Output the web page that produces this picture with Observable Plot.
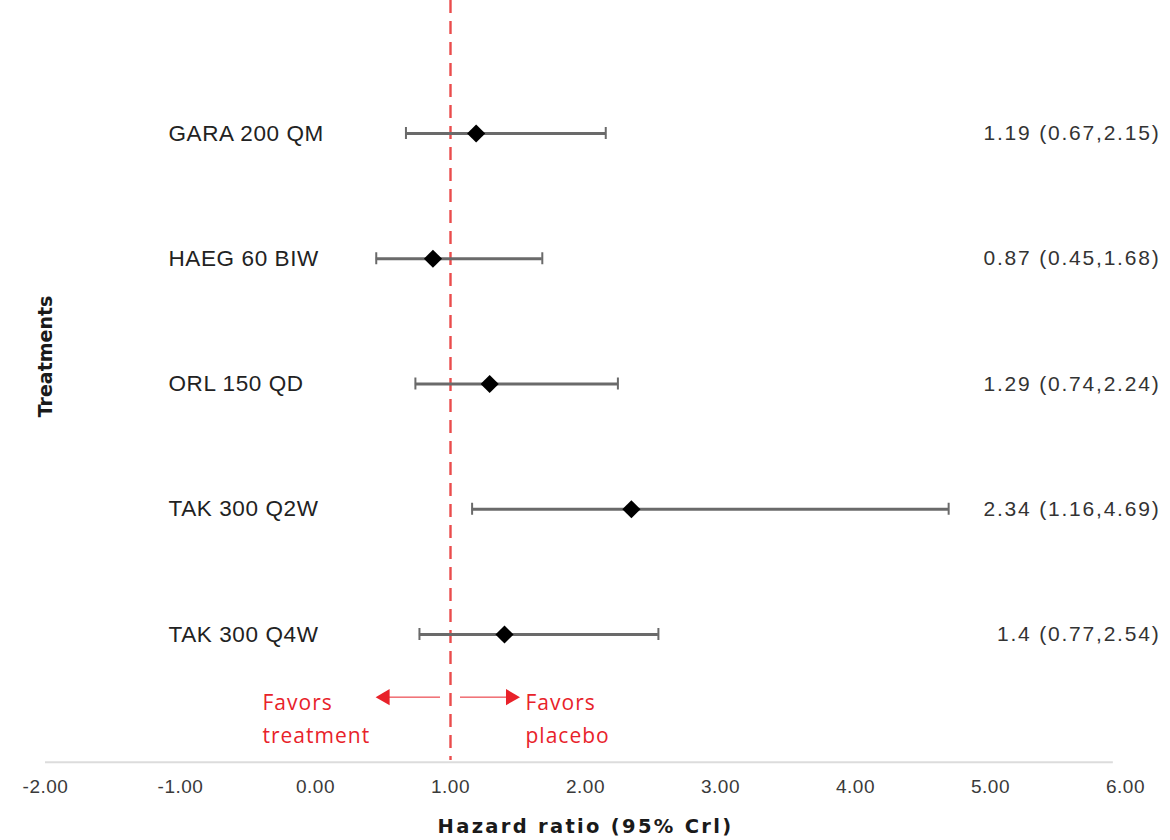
<!DOCTYPE html>
<html>
<head>
<meta charset="utf-8">
<script src="https://cdn.jsdelivr.net/npm/d3@7"></script>
<script src="https://cdn.jsdelivr.net/npm/@observablehq/plot@0.6"></script>
<style>
  html, body { margin: 0; padding: 0; background: #fff; }
  #chart svg { display: block; }
</style>
</head>
<body>
<div id="chart"></div>
<script>
const treatments = ["GARA 200 QM", "HAEG 60 BIW", "ORL 150 QD", "TAK 300 Q2W", "TAK 300 Q4W"];
const hr    = [1.19, 0.87, 1.29, 2.34, 1.4];
const lower = [0.67, 0.45, 0.74, 1.16, 0.77];
const upper = [2.15, 1.68, 2.24, 4.69, 2.54];
const labels = ["1.19 (0.67,2.15)", "0.87 (0.45,1.68)", "1.29 (0.74,2.24)", "2.34 (1.16,4.69)", "1.4 (0.77,2.54)"];
const xTicks = [-2, -1, 0, 1, 2, 3, 4, 5, 6];
const nullValue = 1;
const favorsLeft = "Favors\ntreatment";
const favorsRight = "Favors\nplacebo";
const arrowLeftTip = 0.47;
const arrowRightTip = 1.49;

const rows = treatments.map((t, i) => ({i, name: t, hr: hr[i], lo: lower[i], hi: upper[i], label: labels[i]}));
const annoRow = 4.5;

const font = "Liberation Sans, Arial, sans-serif";
const boldFont = "DejaVu Sans, Liberation Sans, sans-serif";
const redFont = "Open Sans, Lato, sans-serif";
const red = "#e8222a";

const plot = Plot.plot({
  width: 1170,
  height: 840,
  marginLeft: 45,
  marginRight: 45,
  marginTop: 0,
  marginBottom: 80,
  style: {fontFamily: font, background: "#fff"},
  x: {domain: [-2, 6]},
  y: {type: "linear", domain: [0, 4], range: [133, 634], axis: null},
  marks: [
    Plot.ruleY([5.02], {x1: -2, x2: 5.91, stroke: "#dcdcdc", strokeWidth: 2}),
    Plot.ruleX([nullValue], {stroke: "#ea4c4c", strokeWidth: 2.4, strokeDasharray: "13,8"}),
    Plot.axisX({ticks: xTicks, tickFormat: d => d.toFixed(2), tickSize: 0, tickPadding: 19, fontSize: 19, fill: "#3a3a3a", label: null, ariaDescription: "ticks"}),
    Plot.text(["Hazard ratio (95% Crl)"], {frameAnchor: "bottom", dy: 72, fontSize: 19.5, fontWeight: "bold", fill: "#1a1a1a", fontFamily: boldFont, ariaDescription: "xtitle"}),
    Plot.text(["Treatments"], {x: () => -2, y: () => 1.78, rotate: -90, textAnchor: "middle", fontSize: 19, fontWeight: "bold", fill: "#1a1a1a", fontFamily: boldFont}),
    Plot.ruleY(rows, {y: "i", x1: "lo", x2: "hi", stroke: "#6a6a6a", strokeWidth: 2.8}),
    Plot.ruleX(rows, {x: "lo", y1: "i", y2: "i", stroke: "#6a6a6a", strokeWidth: 2, insetTop: -6, insetBottom: -6}),
    Plot.ruleX(rows, {x: "hi", y1: "i", y2: "i", stroke: "#6a6a6a", strokeWidth: 2, insetTop: -6, insetBottom: -6}),
    Plot.dot(rows, {x: "hr", y: "i", symbol: "diamond2", r: 8.2, fill: "#000", stroke: "none"}),
    Plot.text(rows, {y: "i", text: "name", frameAnchor: "left", dx: 123, textAnchor: "start", fontSize: 22.5, fill: "#222", ariaDescription: "names"}),
    Plot.text(rows, {y: "i", text: "label", frameAnchor: "right", dx: 35, textAnchor: "end", fontSize: 21, fill: "#333", ariaDescription: "values"}),
    Plot.ruleY([annoRow], {x1: arrowLeftTip, x2: nullValue, insetLeft: 10, insetRight: 10, stroke: red, strokeWidth: 1}),
    Plot.ruleY([annoRow], {x1: nullValue, x2: arrowRightTip, insetLeft: 10, insetRight: 10, stroke: red, strokeWidth: 1}),
    Plot.dot([arrowLeftTip], {x: d => d, y: () => annoRow, dx: 6, symbol: "triangle", r: 6, fill: red, rotate: -90}),
    Plot.dot([arrowRightTip], {x: d => d, y: () => annoRow, dx: -6, symbol: "triangle", r: 6, fill: red, rotate: 90}),
    Plot.text([favorsLeft], {x: () => nullValue, y: () => annoRow, dx: -188, dy: 19, textAnchor: "start", lineAnchor: "middle", fontSize: 21, fill: red, fontFamily: redFont, lineHeight: 1.57, ariaDescription: "favors"}),
    Plot.text([favorsRight], {x: () => nullValue, y: () => annoRow, dx: 75, dy: 19, textAnchor: "start", lineAnchor: "middle", fontSize: 21, fill: red, fontFamily: redFont, lineHeight: 1.57, ariaDescription: "favors"})
  ]
});
const svg = d3.select(plot);
svg.selectAll('g[aria-description="values"]').attr("letter-spacing", 1.8);
svg.selectAll('g[aria-description="names"]').attr("letter-spacing", 0.6);
svg.selectAll('g[aria-description="xtitle"]').attr("letter-spacing", 2.3);
svg.selectAll('g[aria-description="favors"]').attr("letter-spacing", 1.0);
svg.selectAll('g[aria-description="ticks"]').attr("letter-spacing", 0.5);
document.getElementById("chart").appendChild(plot);
</script>
</body>
</html>
